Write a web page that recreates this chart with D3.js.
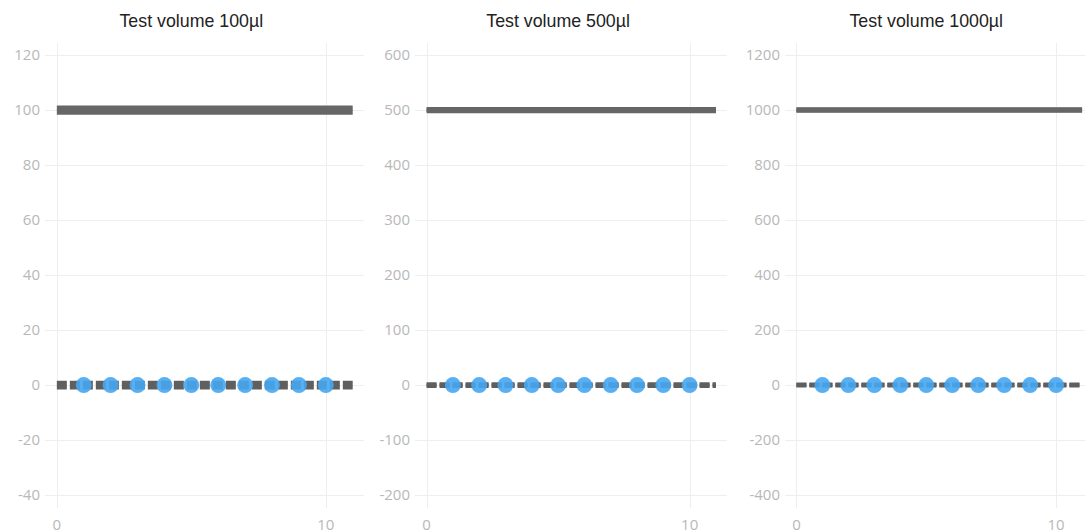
<!DOCTYPE html>
<html>
<head>
    <meta charset="utf-8">
    <title>Test volumes</title>
    <script type="text/javascript" src="https://cdn.jsdelivr.net/npm/d3@7"></script>
    <style>
        body {
            margin: 0;
            background: #fff;
        }

        .grid line {
            stroke: #eeeeee;
            stroke-width: 1px;
        }

        .tick-label {
            font-family: "Open Sans", sans-serif;
            font-size: 15px;
            fill: #b8b8b8;
        }

        .title {
            font-family: "Liberation Sans", Arial, sans-serif;
            font-size: 17.8px;
            fill: #222;
        }

        .limit {
            fill: none;
            stroke: #666;
            stroke-width: 5px;
        }

        .zero {
            fill: none;
            stroke: #5f5f5f;
            stroke-width: 4.5px;
            stroke-dasharray: 10, 3;
        }

        .point {
            fill: #46a7f2;
            fill-opacity: 0.9;
        }
    </style>
</head>

<body>

<script type="text/javascript">
    // data
    var titles = ["Test volume 100µl", "Test volume 500µl", "Test volume 1000µl"];
    var volumes = [100, 500, 1000];
    var tolerances = [0.8, 1, 1];
    var lineX = [0, 11];
    var measX = [1, 2, 3, 4, 5, 6, 7, 8, 9, 10];
    var measY = [
        [0, 0, 0, 0, 0, 0, 0, 0, 0, 0],
        [0, 0, 0, 0, 0, 0, 0, 0, 0, 0],
        [0, 0, 0, 0, 0, 0, 0, 0, 0, 0]
    ];
    var xTicks = [0, 10];
    var yTicks = [
        [-40, -20, 0, 20, 40, 60, 80, 100, 120],
        [-200, -100, 0, 100, 200, 300, 400, 500, 600],
        [-400, -200, 0, 200, 400, 600, 800, 1000, 1200]
    ];

    // layout
    var width = 1085,
        height = 531,
        plotTop = 43,
        plotBottom = 508,
        panelLeft = [45, 415, 785],
        panelWidth = [319, 312, 308];

    var svg = d3.select("body")
            .append("svg")
            .attr("width", width)
            .attr("height", height);

    volumes.forEach(function (vol, i) {
        var x = d3.scaleLinear()
                .domain([-0.44, 11.42])
                .range([panelLeft[i], panelLeft[i] + panelWidth[i]]);

        var y = d3.scaleLinear()
                .domain([-0.447 * vol, 1.244 * vol])
                .range([plotBottom, plotTop]);

        var g = svg.append("g");

        // grid
        var grid = g.append("g").attr("class", "grid");
        grid.selectAll(".hy")
                .data(yTicks[i])
                .enter().append("line")
                .attr("x1", x.range()[0])
                .attr("x2", x.range()[1])
                .attr("y1", function (d) { return Math.round(y(d)) + 0.5; })
                .attr("y2", function (d) { return Math.round(y(d)) + 0.5; });
        grid.selectAll(".vx")
                .data(xTicks)
                .enter().append("line")
                .attr("x1", function (d) { return Math.round(x(d)) + 0.5; })
                .attr("x2", function (d) { return Math.round(x(d)) + 0.5; })
                .attr("y1", plotTop)
                .attr("y2", plotBottom);

        // tick labels
        g.selectAll(".ylab")
                .data(yTicks[i])
                .enter().append("text")
                .attr("class", "tick-label")
                .attr("x", x.range()[0] - 5)
                .attr("y", function (d) { return y(d); })
                .attr("dy", "0.35em")
                .attr("text-anchor", "end")
                .text(function (d) { return d; });

        g.selectAll(".xlab")
                .data(xTicks)
                .enter().append("text")
                .attr("class", "tick-label")
                .attr("x", function (d) { return x(d); })
                .attr("y", 530)
                .attr("text-anchor", "middle")
                .text(function (d) { return d; });

        var line = d3.line()
                .x(function (d) { return x(d[0]); })
                .y(function (d) { return y(d[1]); });

        // upper / lower limits around the test volume
        [vol - tolerances[i], vol + tolerances[i]].forEach(function (v) {
            g.append("path")
                    .attr("class", "limit")
                    .attr("d", line(lineX.map(function (px) { return [px, v]; })));
        });

        // limits around zero deviation
        [-tolerances[i], tolerances[i]].forEach(function (v) {
            g.append("path")
                    .attr("class", "zero")
                    .attr("d", line(lineX.map(function (px) { return [px, v]; })));
        });

        // measurements
        g.selectAll(".point")
                .data(measX.map(function (d, k) { return [d, measY[i][k]]; }))
                .enter().append("circle")
                .attr("class", "point")
                .attr("cx", function (d) { return x(d[0]); })
                .attr("cy", function (d) { return y(d[1]); })
                .attr("r", 8);

        g.append("text")
                .attr("class", "title")
                .attr("x", x(5))
                .attr("y", 27)
                .attr("text-anchor", "middle")
                .text(titles[i]);
    });
</script>

</body>
</html>
